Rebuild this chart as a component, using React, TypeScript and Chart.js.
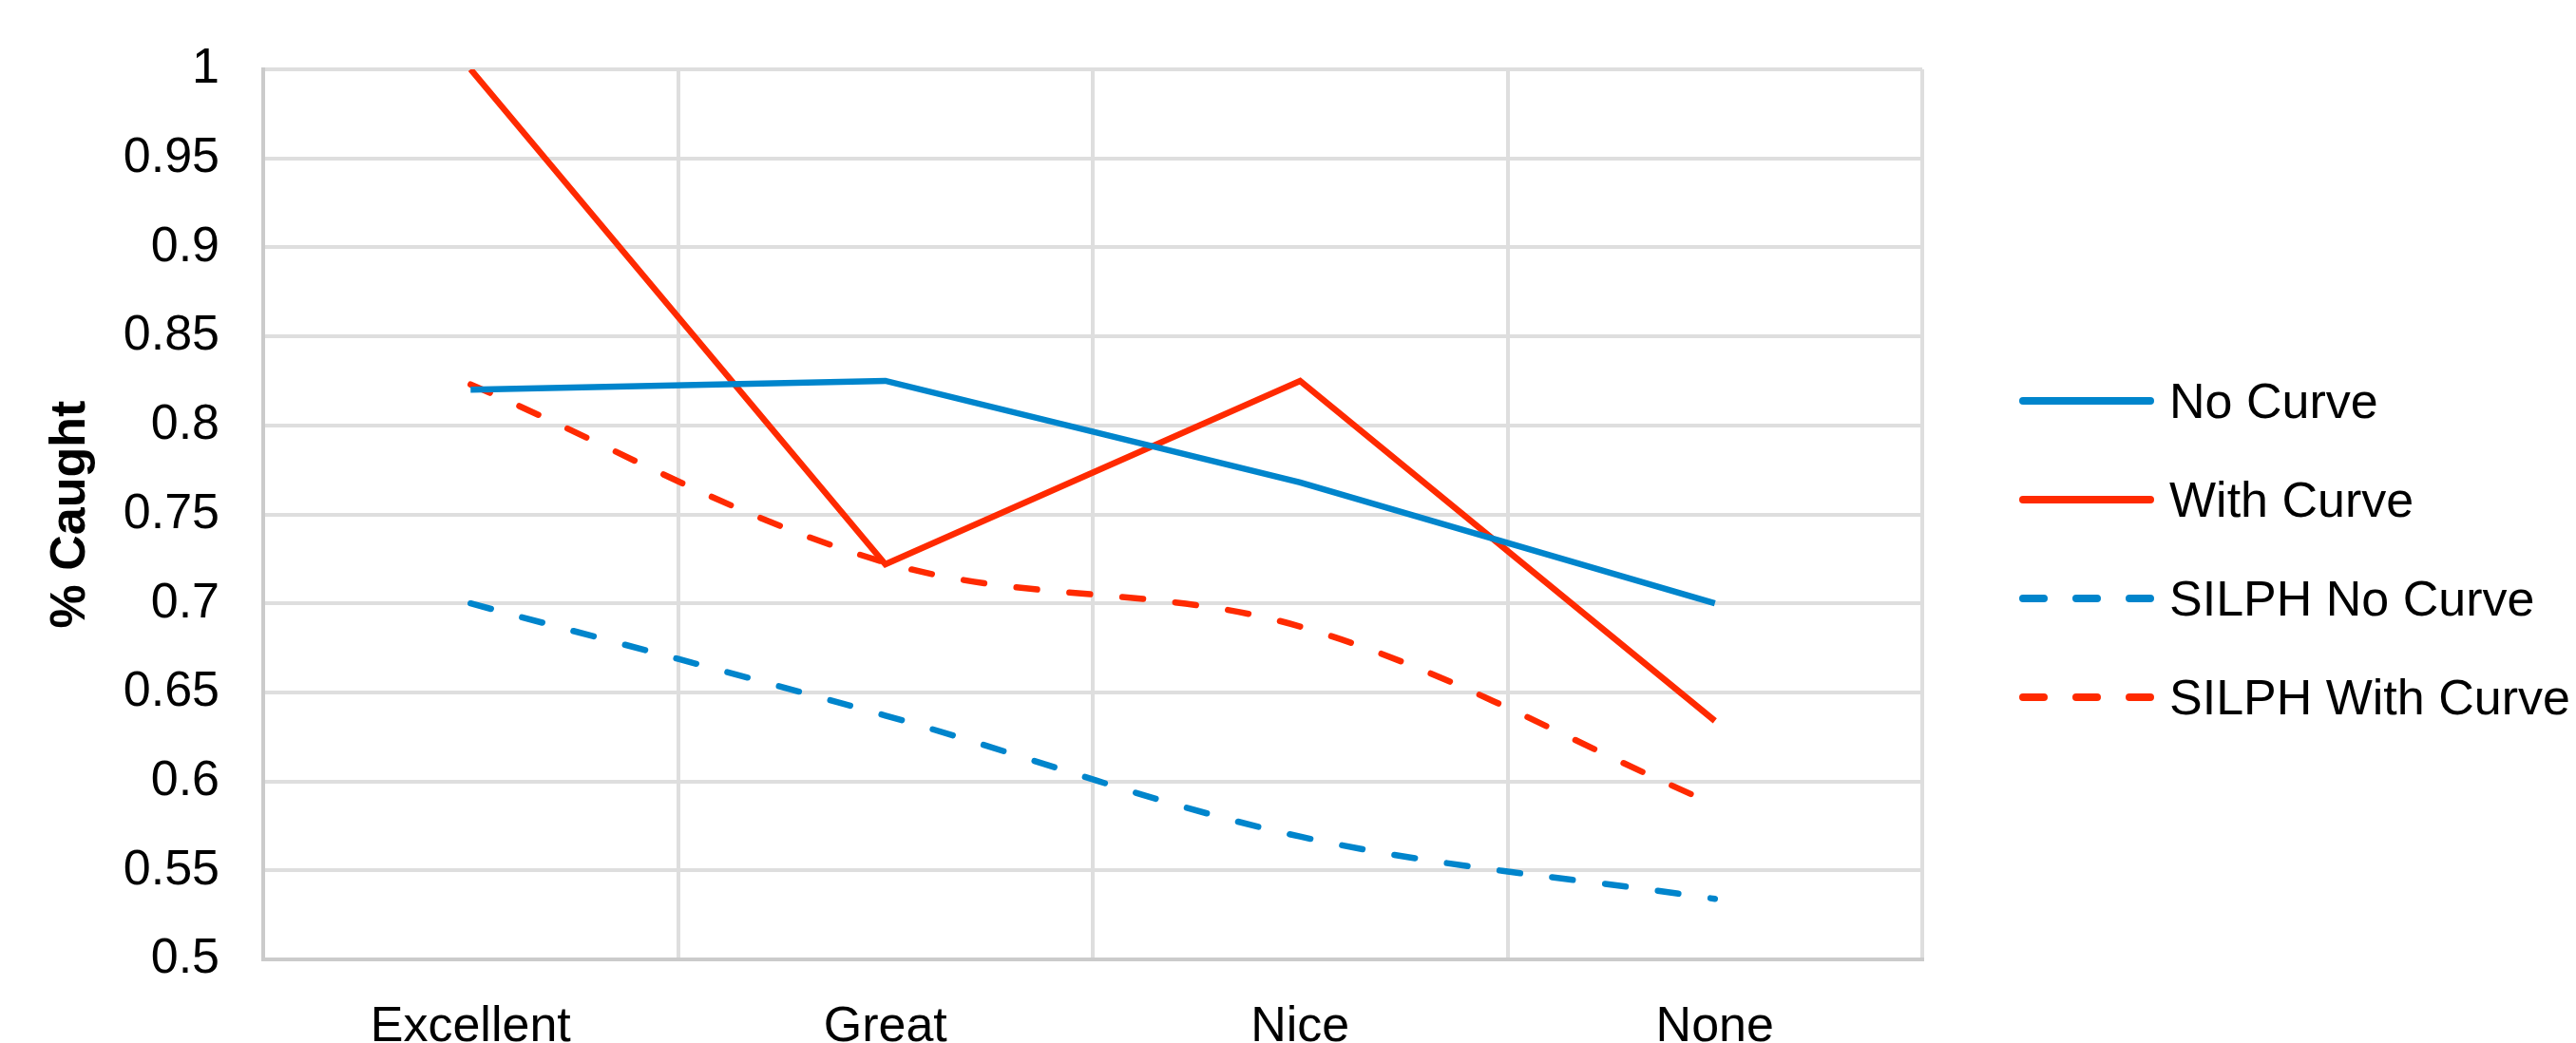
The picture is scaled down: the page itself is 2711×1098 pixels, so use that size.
import { useEffect, useRef } from "react";
import { Chart, registerables } from "chart.js";

Chart.register(...registerables);

const categories = ["Excellent", "Great", "Nice", "None"];
const noCurve = [0.82, 0.825, 0.768, 0.7];
const withCurve = [1.0, 0.722, 0.825, 0.634];
const silphNoCurve = [0.7, 0.637, 0.569, 0.534];
const silphWithCurve = [0.823, 0.723, 0.687, 0.587];

const yMin = 0.5;
const yMax = 1;
const yStep = 0.05;

const BLUE = "#0085CC";
const RED = "#FF2A00";
const FONT = "'Liberation Sans', Arial, sans-serif";

const legendPlugin = {
  id: "sideLegend",
  afterDraw(chart: any) {
    const { ctx, chartArea } = chart;
    const x0 = chartArea.right + 102;
    const lineLen = 142;
    const rowTop = 422;
    const rowGap = 104;
    ctx.save();
    chart.data.datasets.forEach((ds: any, i: number) => {
      const y = rowTop + i * rowGap;
      ctx.beginPath();
      ctx.strokeStyle = ds.borderColor;
      ctx.lineWidth = 8;
      ctx.lineCap = "round";
      ctx.setLineDash(ds.borderDash || []);
      ctx.moveTo(x0 + 4, y);
      ctx.lineTo(x0 + lineLen - 4, y);
      ctx.stroke();
      ctx.setLineDash([]);
      ctx.fillStyle = "#000";
      ctx.font = `52px ${FONT}`;
      ctx.textAlign = "left";
      ctx.textBaseline = "middle";
      ctx.fillText(ds.label, x0 + lineLen + 16, y + 4);
    });
    ctx.restore();
  },
};

export default function App() {
  const canvasRef = useRef<HTMLCanvasElement | null>(null);

  useEffect(() => {
    document.body.style.margin = "0";
    const canvas = canvasRef.current;
    if (!canvas) return;
    const dash = [22, 34];
    const chart = new Chart(canvas, {
      type: "line",
      data: {
        labels: categories,
        datasets: [
          {
            label: "No Curve",
            data: noCurve,
            borderColor: BLUE,
            borderWidth: 6.5,
            tension: 0,
            pointRadius: 0,
          },
          {
            label: "With Curve",
            data: withCurve,
            borderColor: RED,
            borderWidth: 6.5,
            tension: 0,
            pointRadius: 0,
          },
          {
            label: "SILPH No Curve",
            data: silphNoCurve,
            borderColor: BLUE,
            borderWidth: 6.5,
            borderDash: dash,
            borderCapStyle: "round",
            tension: 0.35,
            pointRadius: 0,
          },
          {
            label: "SILPH With Curve",
            data: silphWithCurve,
            borderColor: RED,
            borderWidth: 6.5,
            borderDash: dash,
            borderCapStyle: "round",
            tension: 0.35,
            pointRadius: 0,
          },
        ],
      },
      options: {
        responsive: false,
        animation: false,
        devicePixelRatio: 1,
        layout: { padding: { top: 73, right: 688, left: 0, bottom: 0 } },
        plugins: {
          legend: { display: false },
          tooltip: { enabled: false },
        },
        scales: {
          x: {
            offset: true,
            grid: {
              offset: true,
              color: "#DEDEDE",
              lineWidth: 4,
              drawTicks: false,
            },
            border: { color: "#CBCBCB", width: 4 },
            ticks: {
              color: "#000",
              font: { family: FONT, size: 52 },
              padding: 40,
              maxRotation: 0,
            },
            afterFit(scale: any) {
              scale.height = 88;
            },
          },
          y: {
            min: yMin,
            max: yMax,
            grid: { color: "#DEDEDE", lineWidth: 4, drawTicks: false },
            border: { color: "#CBCBCB", width: 4 },
            ticks: {
              stepSize: yStep,
              color: "#000",
              font: { family: FONT, size: 52, lineHeight: 1 },
              padding: 46,
              callback: (v: any) => String(Number(Number(v).toFixed(2))),
            },
            title: {
              display: true,
              text: "% Caught",
              color: "#000",
              font: { family: FONT, size: 52, weight: "bold" },
              padding: { top: 43, bottom: 0 },
            },
            afterFit(scale: any) {
              scale.width = 277;
            },
          },
        },
      },
      plugins: [legendPlugin],
    });
    return () => chart.destroy();
  }, []);

  return (
    <div style={{ position: "absolute", left: 0, top: 0 }}>
      <canvas
        ref={canvasRef}
        width={2711}
        height={1098}
        style={{ display: "block", width: 2711, height: 1098 }}
      />
    </div>
  );
}
